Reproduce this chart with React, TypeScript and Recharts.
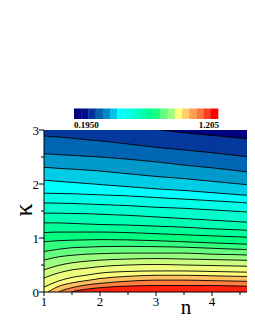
import React from "react";
import { ComposedChart, Area, XAxis, YAxis, ReferenceArea, Customized } from "recharts";

// sample positions along n
const N_VALUES = [1, 1.25, 1.5, 1.75, 2, 2.5, 3, 3.5, 4, 4.5, 5];

// contour lines: kappa value of each contour at N_VALUES (top to bottom)
const LINE_A = [3.2, 3.18, 3.16, 3.14, 3.12, 3.07, 3.01, 2.95, 2.9, 2.85, 2.8];
const LINE_B = [2.89, 2.87, 2.85, 2.82, 2.8, 2.74, 2.68, 2.63, 2.58, 2.52, 2.47];
const LINE_C = [2.56, 2.545, 2.53, 2.515, 2.5, 2.46, 2.41, 2.35, 2.3, 2.24, 2.18];
const LINE_D = [2.31, 2.29, 2.275, 2.26, 2.24, 2.19, 2.14, 2.1, 2.05, 2.0, 1.95];
const LINE_E = [2.07, 2.05, 2.03, 2.01, 1.99, 1.95, 1.91, 1.88, 1.84, 1.8, 1.76];
const LINE_F = [1.83, 1.825, 1.82, 1.81, 1.8, 1.78, 1.75, 1.72, 1.69, 1.66, 1.62];
const LINE_G = [1.65, 1.645, 1.64, 1.63, 1.62, 1.6, 1.57, 1.55, 1.52, 1.49, 1.46];
const LINE_H = [1.46, 1.46, 1.455, 1.45, 1.44, 1.42, 1.39, 1.36, 1.33, 1.3, 1.27];
const LINE_I = [1.28, 1.28, 1.27, 1.26, 1.25, 1.24, 1.22, 1.2, 1.17, 1.15, 1.12];
const LINE_J = [1.1, 1.11, 1.11, 1.11, 1.11, 1.1, 1.08, 1.06, 1.04, 1.02, 0.99];
const LINE_K = [0.93, 0.95, 0.96, 0.965, 0.97, 0.965, 0.95, 0.93, 0.91, 0.89, 0.87];
const LINE_L = [0.75, 0.79, 0.82, 0.83, 0.84, 0.845, 0.84, 0.83, 0.81, 0.79, 0.77];
const LINE_M = [0.59, 0.65, 0.68, 0.7, 0.71, 0.72, 0.72, 0.72, 0.7, 0.69, 0.67];
const LINE_N = [0.41, 0.49, 0.54, 0.57, 0.59, 0.61, 0.62, 0.61, 0.6, 0.59, 0.57];
const LINE_O = [0.26, 0.35, 0.41, 0.44, 0.47, 0.5, 0.51, 0.5, 0.49, 0.48, 0.47];
const LINE_P = [0.09, 0.2, 0.27, 0.31, 0.35, 0.38, 0.39, 0.39, 0.38, 0.37, 0.36];
const LINE_Q = [-0.05, 0.1, 0.17, 0.21, 0.25, 0.29, 0.31, 0.31, 0.3, 0.29, 0.28];
const LINE_R = [-0.25, -0.01, 0.08, 0.13, 0.16, 0.2, 0.22, 0.22, 0.21, 0.2, 0.19];
const LINE_S = [-0.5, -0.2, 0.0, 0.05, 0.08, 0.11, 0.12, 0.12, 0.12, 0.11, 0.1];

const LINES = [LINE_A, LINE_B, LINE_C, LINE_D, LINE_E, LINE_F, LINE_G, LINE_H, LINE_I, LINE_J,
  LINE_K, LINE_L, LINE_M, LINE_N, LINE_O, LINE_P, LINE_Q, LINE_R, LINE_S];

// fill colour of each band, from the top (above LINE_A) to the bottom (below LINE_S)
const BAND_COLORS = [
  "#000080", "#05389C", "#0066B3", "#0099CC", "#00CCE6", "#00FFFF", "#00FFE6", "#00FFCC",
  "#00FFB3", "#00FF99", "#00FF80", "#33FF80", "#66FF80", "#99FF80", "#CCFF80", "#EEFF80",
  "#FFFF80", "#FFC060", "#FF8040", "#FF2010",
];
// colour bar segments
const COLORBAR_COLORS = [
  "#000080", "#000C8C", "#003399", "#0060B0", "#0088C8", "#00C0E8", "#00FFFF", "#00FFE6",
  "#00FFCC", "#00FFB0", "#00FF90", "#20FF80", "#60FF80", "#A0FF80", "#FFFF80", "#FFD070",
  "#FFA050", "#FF7840", "#FF4020", "#FF0000",
];
const COLORBAR_LABELS = ["0.1950", "1.205"];

const X_TICKS = [1, 1.5, 2, 2.5, 3, 3.5, 4, 4.5];
const Y_TICKS = [0, 0.5, 1, 1.5, 2, 2.5, 3];

const data = N_VALUES.map((n, i) => {
  const row: Record<string, number> = { n };
  LINES.forEach((l, j) => { row["c" + j] = l[i]; });
  return row;
});

const FONT = "'Liberation Serif', 'Times New Roman', serif";

const XTick = (props: any) => {
  const { x, y, payload } = props;
  const major = Number.isInteger(payload.value);
  return (
    <g>
      <line x1={x} x2={x} y1={y} y2={y + (major ? 4 : 3)} stroke="#000" strokeWidth={1} />
      {major && (
        <text x={x} y={y + 14} textAnchor="middle" fontFamily={FONT} fontSize={13} fill="#000">
          {payload.value}
        </text>
      )}
    </g>
  );
};

const YTick = (props: any) => {
  const { x, y, payload } = props;
  const major = Number.isInteger(payload.value);
  return (
    <g>
      <line x1={x - (major ? 5 : 3)} x2={x} y1={y} y2={y} stroke="#000" strokeWidth={1} />
      {major && (
        <text x={x - 5} y={y + 4.5} textAnchor="end" fontFamily={FONT} fontSize={13} fill="#000">
          {payload.value}
        </text>
      )}
    </g>
  );
};

const Overlay = () => {
  const x0 = 66;
  const w = 144 / COLORBAR_COLORS.length;
  return (
    <g>
      {COLORBAR_COLORS.map((c, i) => (
        <rect key={i} x={x0 + i * w} y={100.5} width={w + 0.3} height={10.5} fill={c} />
      ))}
      <text x={x0} y={120} fontFamily={FONT} fontSize={9} fontWeight="bold" fill="#000">
        {COLORBAR_LABELS[0]}
      </text>
      <text x={211} y={120} textAnchor="end" fontFamily={FONT} fontSize={9} fontWeight="bold" fill="#000">
        {COLORBAR_LABELS[1]}
      </text>
      <rect x={239.5} y={124.5} width={30} height={15} fill="#fff" stroke="#000" strokeWidth={0.6} />
      <text x={241} y={137} fontFamily={FONT} fontSize={14} fontWeight="bold" fill="#000">(b)</text>
      <text x={178} y={306} textAnchor="middle" fontFamily={FONT} fontSize={21} fill="#000">n</text>
      <text x={0} y={0} transform="translate(24,202) rotate(-90)" textAnchor="middle"
        fontFamily={FONT} fontSize={26} fill="#000">κ</text>
    </g>
  );
};

export default function App() {
  return (
    <div style={{ width: 247, height: 322, overflow: "hidden", position: "relative" }}>
      <ComposedChart width={290} height={322} data={data}
        margin={{ top: 122, right: 30, bottom: 8, left: 0 }}>
        <XAxis type="number" dataKey="n" domain={[1, 5]} ticks={X_TICKS} allowDataOverflow
          tickLine={false} tickSize={0} tickMargin={0} height={30} interval={0}
          axisLine={{ stroke: "#000", strokeWidth: 1 }} tick={<XTick />} />
        <YAxis type="number" domain={[0, 3]} ticks={Y_TICKS} allowDataOverflow
          tickLine={false} tickSize={0} tickMargin={0} width={36} interval={0}
          axisLine={{ stroke: "#000", strokeWidth: 1 }} tick={<YTick />} />
        <ReferenceArea x1={1} x2={5} y1={0} y2={3} fill={BAND_COLORS[0]} fillOpacity={1}
          stroke="none" ifOverflow="hidden" />
        {LINES.map((_, j) => (
          <Area key={j} type="monotone" dataKey={"c" + j} baseValue={-1}
            fill={BAND_COLORS[j + 1]} fillOpacity={1} stroke="#000" strokeWidth={0.9}
            dot={false} activeDot={false} isAnimationActive={false} />
        ))}
        <Customized component={Overlay} />
      </ComposedChart>
    </div>
  );
}
